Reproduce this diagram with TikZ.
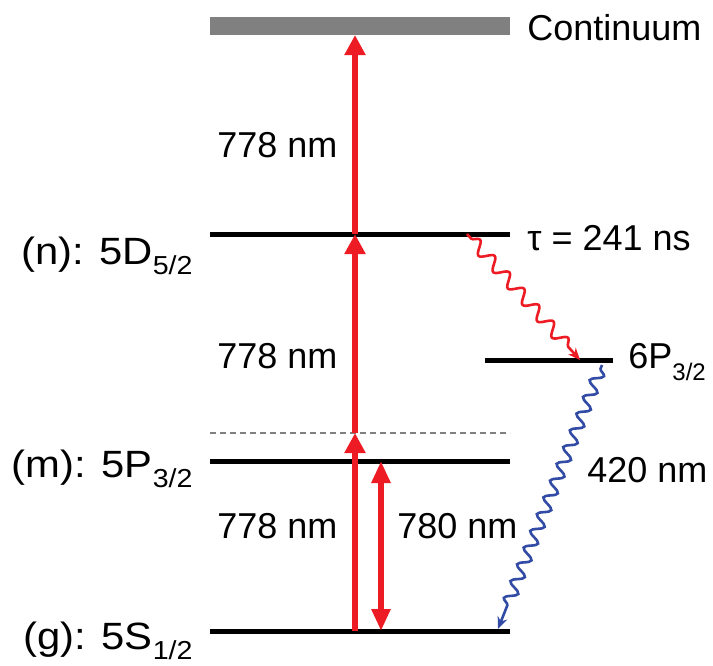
\documentclass[tikz,border=0pt]{standalone}
\usepackage{fontspec}
\setmainfont{Liberation Sans}
\usetikzlibrary{arrows.meta,decorations.pathmorphing}
\definecolor{laser}{RGB}{237,28,36}
\definecolor{bluewave}{RGB}{50,75,165}
\definecolor{contgray}{RGB}{128,128,128}
\newcommand{\sbs}[1]{\raisebox{-6pt}{\fontsize{12}{12}\selectfont #1}}
\newcommand{\sbl}[1]{\raisebox{-5pt}{\fontsize{13}{13}\selectfont #1}}
\begin{document}
\begin{tikzpicture}[x=0.5pt,y=-0.5pt,
  level/.style={line width=2.5pt,black},
  lbl/.style={inner sep=0pt,font=\fontsize{18}{21}\selectfont,text=black},
  sidelbl/.style={inner sep=0pt,font=\fontsize{19}{22}\selectfont,text=black,xscale=1.1},
  pump/.style={laser,line width=3pt,-{Triangle[length=10pt,width=10pt]}},
  probe/.style={laser,line width=3pt,{Triangle[length=11pt,width=9pt]}-{Triangle[length=11pt,width=9pt]}},
  wave/.style={decorate,line width=1.3pt,-{Stealth[length=6pt,width=5pt]}}
]
\useasboundingbox (0,0) rectangle (713,665);
% continuum bar
\fill[contgray] (210,17) rectangle (510,35);
\coordinate (cont) at (355,35);
% levels
\coordinate (nL) at (210,234); \coordinate (nR) at (510,234);
\coordinate (mL) at (210,461); \coordinate (mR) at (510,461);
\coordinate (gL) at (210,631); \coordinate (gR) at (510,631);
\coordinate (pL) at (485,360); \coordinate (pR) at (613,360);
\coordinate (vL) at (210,433); \coordinate (vR) at (510,433);
\draw[level] (nL) -- (nR);
\draw[level] (mL) -- (mR);
\draw[level] (gL) -- (gR);
\draw[level] (pL) -- (pR);
\draw[contgray,line width=0.75pt,dash pattern=on 3pt off 2pt] (vL) -- (vR);
% pump arrows
\coordinate (a0) at (355,631);
\coordinate (a1) at (355,433);
\coordinate (a2) at (355,234);
\draw[pump] (a0) -- (a1);
\draw[pump] (a1) -- (a2);
\draw[pump] (a2) -- (cont);
% probe 780
\coordinate (b0) at (381,461);
\coordinate (b1) at (381,631);
\draw[probe] (b0) -- (b1);
% decays
\coordinate (r0) at (467,234);
\coordinate (r1) at (580,360);
\coordinate (u0) at (602,365);
\coordinate (u1) at (498,629);
\draw[wave,laser,decoration={snake,amplitude=3pt,segment length=11pt,pre length=3pt,post length=6pt}] (r0) -- (r1);
\draw[wave,bluewave,decoration={snake,amplitude=3pt,segment length=9pt,pre length=2pt,post length=12pt}] (u0) -- (u1);
% labels
\node[lbl,anchor=base west] (tcont) at (527,40) {Continuum};
\node[lbl,anchor=base west] (ttau) at (527,250) {τ = 241 ns};
\node[lbl,anchor=base west] (t6p) at (628,368) {6P\sbs{3/2}};
\node[lbl,anchor=base west] (t1) at (217,157) {778 nm};
\node[lbl,anchor=base west] (t2) at (217,368) {778 nm};
\node[lbl,anchor=base west] (t3) at (217,538) {778 nm};
\node[lbl,anchor=base west] (t4) at (397,538) {780 nm};
\node[lbl,anchor=base west] (t5) at (587,482) {420 nm};
\node[sidelbl,anchor=base east] (ln) at (193,264) {(n): 5D\sbl{5/2}};
\node[sidelbl,anchor=base east] (lm) at (193,477) {(m): 5P\sbl{3/2}};
\node[sidelbl,anchor=base east] (lg) at (193,649) {(g): 5S\sbl{1/2}};
\end{tikzpicture}
\end{document}
